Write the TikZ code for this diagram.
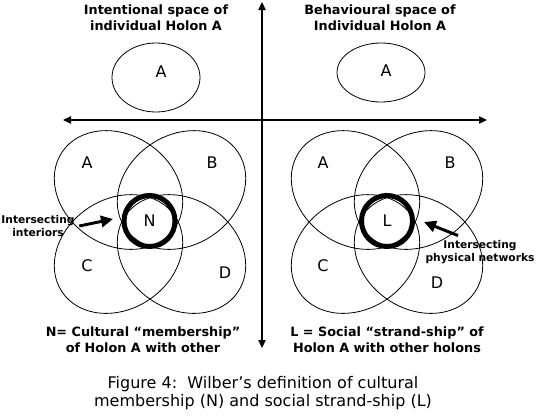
\documentclass[tikz,border=0pt]{standalone}
\usepackage{fontspec}
\setmainfont{DejaVu Sans}
\usetikzlibrary{arrows.meta}

\begin{document}
\begin{tikzpicture}[x=0.75pt,y=-0.75pt,
    heading/.style={font=\bfseries\fontsize{9.6}{12}\selectfont, align=center},
    caption/.style={font=\fontsize{12}{13.5}\selectfont, align=center},
    letter/.style={font=\fontsize{12}{14}\selectfont},
    note/.style={font=\bfseries\fontsize{8}{9.8}\selectfont, align=center},
    ring/.style={circle, draw, line width=3.75pt, minimum size=38.25pt,
                 inner sep=0pt, font=\fontsize{12}{14}\selectfont},
    holon/.style={line width=0.6pt},
    axis/.style={line width=0.8pt,
                 {Triangle[length=6pt,width=5.5pt]}-{Triangle[length=6pt,width=5.5pt]}},
    pointer/.style={line width=2.2pt, -{Triangle[length=9pt,width=8.5pt]}}]
  \useasboundingbox (0,0) rectangle (539,419);

  % axes
  \coordinate (n) at (262,2);
  \coordinate (s) at (262,348);
  \coordinate (w) at (63,120);
  \coordinate (e) at (487,120);
  \draw[axis] (s) -- (n);
  \draw[axis] (w) -- (e);

  % individual holon
  \node[heading] (intent) at (156,18) {Intentional space of\\individual Holon A};
  \node[heading] (behav)  at (380,18) {Behavioural space of\\Individual Holon A};
  \draw[holon] (156,77.5) ellipse (44 and 34.5);
  \draw[holon] (381,72.5) ellipse (44 and 29.5);
  \node[letter] (a1) at (161,72) {A};
  \node[letter] (a2) at (386,71) {A};

  % overlapping holons
  \foreach \cx in {150,387} {
    \draw[holon, rotate around={-34:(\cx-31.5,190)}] (\cx-31.5,190) ellipse (68 and 55);
    \draw[holon, rotate around={34:(\cx+31.5,190)}]  (\cx+31.5,190) ellipse (68 and 55);
    \draw[holon, rotate around={34:(\cx-31.5,254)}]  (\cx-31.5,254) ellipse (68 and 55);
    \draw[holon, rotate around={-34:(\cx+31.5,254)}] (\cx+31.5,254) ellipse (68 and 55);
  }

  \node[letter] (la) at (87,163)  {A};
  \node[letter] (lb) at (212,163) {B};
  \node[letter] (lc) at (87,266)  {C};
  \node[letter] (ld) at (225,273) {D};
  \node[letter] (ra) at (323,163) {A};
  \node[letter] (rb) at (450,163) {B};
  \node[letter] (rc) at (323,266) {C};
  \node[letter] (rd) at (437,283) {D};

  \node[ring] (N) at (149.5,221) {N};
  \node[ring] (L) at (387,221) {L};

  % intersections
  \node[note] (intN) at (38,226) {Intersecting\\interiors};
  \coordinate (tipN) at (113,219);
  \draw[pointer] (intN.east) -- (tipN);

  \node[note] (intL) at (480,252) {Intersecting\\physical networks};
  \coordinate (tipL) at (424,222);
  \draw[pointer] ([xshift=-16.5pt]intL.north) -- (tipL);

  \node[heading] (memb)  at (143,340) {N= Cultural “membership”\\of Holon A with other};
  \node[heading] (strand) at (387,340) {L = Social “strand-ship” of\\Holon A with other holons};

  \node[caption] (fig) at (263,393) {Figure 4:\ \ Wilber’s definition of cultural\\membership (N) and social strand-ship (L)};
\end{tikzpicture}
\end{document}
